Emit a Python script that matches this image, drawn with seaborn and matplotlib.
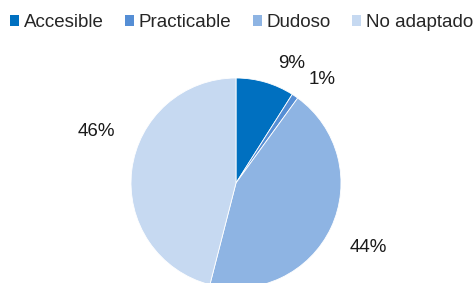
import matplotlib
matplotlib.use("Agg")
import matplotlib.pyplot as plt
import seaborn as sns
from matplotlib.patches import Patch

categories = ["Accesible", "Practicable", "Dudoso", "No adaptado"]
values = [9, 1, 44, 46]
pct_labels = ["9%", "1%", "44%", "46%"]
colors = ["#0070C0", "#558ED5", "#8EB4E3", "#C6D9F1"]

sns.set_theme(style="white")
plt.rcParams['font.family'] = ['Liberation Sans', 'DejaVu Sans']

fig = plt.figure(figsize=(4.73, 2.83), dpi=100)
ax = fig.add_axes([0, 0, 1, 1])
wedges, _ = ax.pie(values, colors=colors, startangle=90, counterclock=False,
                   radius=1.0, wedgeprops=dict(edgecolor="white", linewidth=0.6))
ax.set_xlim(-236/105, (473-236)/105)
ax.set_ylim(-100/105, 183/105)
ax.set_aspect('auto')
ax.axis('off')

# label positions (relative to pie center, in radius units)
label_pos = [(0.53, 1.14), (0.82, 0.99), (1.26, -0.61), (-1.33, 0.49)]
for txt, (x, y) in zip(pct_labels, label_pos):
    ax.text(x, y, txt, ha="center", va="center", fontsize=13.5, color="#1a1a1a")

handles = [Patch(facecolor=c, edgecolor="none") for c in colors]
fig.legend(handles, categories, loc="upper left", bbox_to_anchor=(10/473, 1 - 14/283),
           ncol=4, frameon=False, fontsize=13.5, handlelength=0.5, handleheight=0.5,
           handletextpad=0.25, columnspacing=1.12, borderaxespad=0.0, borderpad=0.0)

fig.savefig("out.png", dpi=100)
